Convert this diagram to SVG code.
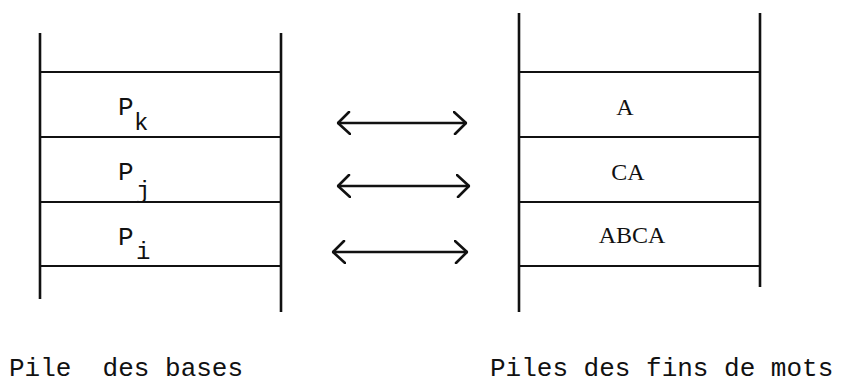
<svg xmlns="http://www.w3.org/2000/svg" width="843" height="389" viewBox="0 0 843 389">
<style>
.ln{stroke:#111;stroke-width:2;fill:none}
.vl{stroke:#111;stroke-width:2.6;fill:none}
.ar{stroke:#111;stroke-width:2.4;fill:none;stroke-linecap:round;stroke-linejoin:round}
.p{font-family:"Liberation Mono",monospace;font-size:26px;fill:#111}
.s{font-family:"Liberation Mono",monospace;font-size:24px;fill:#111}
.w{font-family:"Liberation Serif",serif;font-size:24px;fill:#111;text-anchor:middle}
.lab{font-family:"Liberation Mono",monospace;font-size:26px;fill:#111;white-space:pre}
</style>
<defs>
<marker id="ah" viewBox="0 0 14 24" refX="13" refY="12" markerWidth="14" markerHeight="24" markerUnits="userSpaceOnUse" orient="auto-start-reverse">
<path d="M1,1 L13,12 L2,23" stroke="#111" stroke-width="2.6" fill="none" stroke-linecap="round" stroke-linejoin="round"/>
</marker>
</defs>
<g id="pile-bases">
<line class="vl" x1="40" y1="33" x2="40" y2="299"/>
<line class="vl" x1="281" y1="33" x2="281" y2="312"/>
<line class="ln" x1="40" y1="72" x2="281" y2="72"/>
<line class="ln" x1="40" y1="137" x2="281" y2="137"/>
<line class="ln" x1="40" y1="202" x2="281" y2="202"/>
<line class="ln" x1="40" y1="266" x2="281" y2="266"/>
<text class="p" x="118" y="115">P</text><text class="s" x="134" y="130">k</text>
<text class="p" x="118" y="180">P</text><text class="s" x="136" y="198">j</text>
<text class="p" x="118" y="245">P</text><text class="s" x="136" y="259">i</text>
</g>
<g id="pile-fins">
<line class="vl" x1="519" y1="13" x2="519" y2="312"/>
<line class="vl" x1="760" y1="13" x2="760" y2="287"/>
<line class="ln" x1="519" y1="72" x2="760" y2="72"/>
<line class="ln" x1="519" y1="137" x2="760" y2="137"/>
<line class="ln" x1="519" y1="202" x2="760" y2="202"/>
<line class="ln" x1="519" y1="266" x2="760" y2="266"/>
<text class="w" x="625" y="115">A</text>
<text class="w" x="628" y="180">CA</text>
<text class="w" x="632" y="243">ABCA</text>
</g>
<g id="connectors">
<line class="ar" x1="338" y1="123" x2="466" y2="123" marker-start="url(#ah)" marker-end="url(#ah)"/>
<line class="ar" x1="338" y1="186" x2="469" y2="186" marker-start="url(#ah)" marker-end="url(#ah)"/>
<line class="ar" x1="333" y1="252" x2="467" y2="252" marker-start="url(#ah)" marker-end="url(#ah)"/>
</g>
<g id="labels">
<text class="lab" x="9" y="376" xml:space="preserve">Pile  des bases</text>
<text class="lab" x="490" y="376">Piles des fins de mots</text>
</g>
</svg>
